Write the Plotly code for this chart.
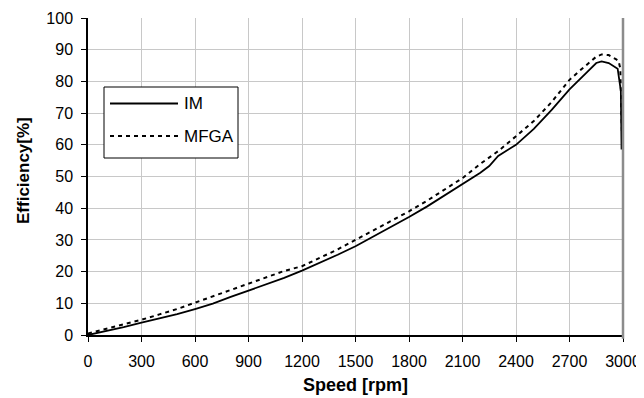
import plotly.graph_objects as go

# Data
im_speed = [0, 100, 200, 300, 400, 500, 600, 700, 800, 900, 1000, 1100, 1200, 1300,
            1400, 1500, 1600, 1700, 1800, 1900, 2000, 2100, 2200, 2250, 2300, 2400,
            2500, 2600, 2700, 2800, 2850, 2880, 2920, 2970, 2980, 2988, 2992]
im_eff = [0, 1.2, 2.5, 3.9, 5.2, 6.6, 8.2, 9.9, 12.0, 14.0, 16.0, 18.0, 20.3, 22.7,
          25.3, 28.0, 31.0, 34.0, 37.2, 40.5, 44.0, 47.6, 51.2, 53.3, 56.5, 60.0,
          65.0, 71.0, 77.5, 83.0, 85.8, 86.3, 85.8, 84.0, 80.0, 77.0, 58.5]

mfga_speed = [0, 100, 200, 300, 400, 500, 600, 700, 800, 900, 1000, 1100, 1200, 1300,
              1400, 1500, 1600, 1700, 1800, 1900, 2000, 2100, 2200, 2300, 2400, 2500,
              2600, 2700, 2750, 2800, 2850, 2880, 2920, 2960, 2975, 2985, 2995]
mfga_eff = [0.5, 1.9, 3.3, 4.8, 6.5, 8.2, 10.2, 12.2, 14.2, 16.3, 18.3, 20.2, 21.7, 24.3,
            27.0, 30.0, 33.0, 36.0, 39.0, 42.3, 45.8, 49.5, 54.0, 58.0, 62.7, 67.5,
            73.5, 80.5, 83.0, 85.5, 87.8, 88.5, 88.3, 87.0, 86.5, 84.0, 61.5]

x_ticks = list(range(0, 3001, 300))
y_ticks = list(range(0, 101, 10))
series_names = ["IM", "MFGA"]
x_title = "Speed [rpm]"
y_title = "Efficiency[%]"

FONT = "'Liberation Sans', Arial, sans-serif"

fig = go.Figure()
fig.add_trace(go.Scatter(x=im_speed, y=im_eff, mode="lines", name=series_names[0],
                         line=dict(color="black", width=1.8), showlegend=False))
fig.add_trace(go.Scatter(x=mfga_speed, y=mfga_eff, mode="lines", name=series_names[1],
                         line=dict(color="black", width=2, dash="4px,4px"), showlegend=False))

# The page has an 8px body margin, so figure coords = screen coords - 8
OFF = 8
W, H = 644 - OFF, 398 - OFF
L, R, T, B = 88 - OFF, 623 - OFF, 18 - OFF, 335 - OFF
def px(x):
    return (x - OFF - L) / (R - L)
def py(y):
    return (B - (y - OFF)) / (B - T)

shapes = [
    dict(type="line", xref="paper", yref="paper", x0=1, x1=1, y0=-0.012, y1=1,
         line=dict(color="#8c8c8c", width=2.5)),
    dict(type="rect", xref="paper", yref="paper", x0=px(104), x1=px(238), y0=py(158), y1=py(87),
         line=dict(color="black", width=1), fillcolor="white", layer="above"),
    dict(type="line", xref="paper", yref="paper", x0=px(110), x1=px(178), y0=py(103.5), y1=py(103.5),
         line=dict(color="black", width=1.8), layer="above"),
    dict(type="line", xref="paper", yref="paper", x0=px(110), x1=px(178), y0=py(136), y1=py(136),
         line=dict(color="black", width=2, dash="4px,4px"), layer="above"),
]
annotations = [
    dict(xref="paper", yref="paper", x=px(182), y=py(103.5), text=series_names[0], showarrow=False,
         xanchor="left", yanchor="middle", font=dict(family=FONT, size=17, color="black")),
    dict(xref="paper", yref="paper", x=px(182), y=py(136), text=series_names[1], showarrow=False,
         xanchor="left", yanchor="middle", font=dict(family=FONT, size=17, color="black")),
    dict(xref="paper", yref="paper", x=px(355), y=py(385), text="<b>" + x_title + "</b>",
         showarrow=False, xanchor="center", yanchor="middle",
         font=dict(family=FONT, size=18, color="black")),
    dict(xref="paper", yref="paper", x=px(23), y=py(171), text="<b>" + y_title + "</b>",
         showarrow=False, xanchor="center", yanchor="middle", textangle=-90,
         font=dict(family=FONT, size=17, color="black")),
]

axis_common = dict(ticks="outside", ticklen=5, tickcolor="black", tickwidth=1,
                   showline=True, linecolor="black", linewidth=1.5,
                   showgrid=True, gridcolor="#c8c8c8", gridwidth=1, zeroline=False,
                   automargin=False, tickfont=dict(family=FONT, size=16, color="black"))

fig.update_layout(
    width=W, height=H,
    margin=dict(l=L, r=W - R, t=T, b=H - B, autoexpand=False),
    paper_bgcolor="white", plot_bgcolor="white",
    font=dict(family=FONT, size=16, color="black"),
    shapes=shapes, annotations=annotations,
    xaxis=dict(range=[0, 3000], tickvals=x_ticks, ticklabelstandoff=6, **axis_common),
    yaxis=dict(range=[0, 100], tickvals=y_ticks, ticklabelstandoff=5, **axis_common),
)

fig.write_html("out.html")
